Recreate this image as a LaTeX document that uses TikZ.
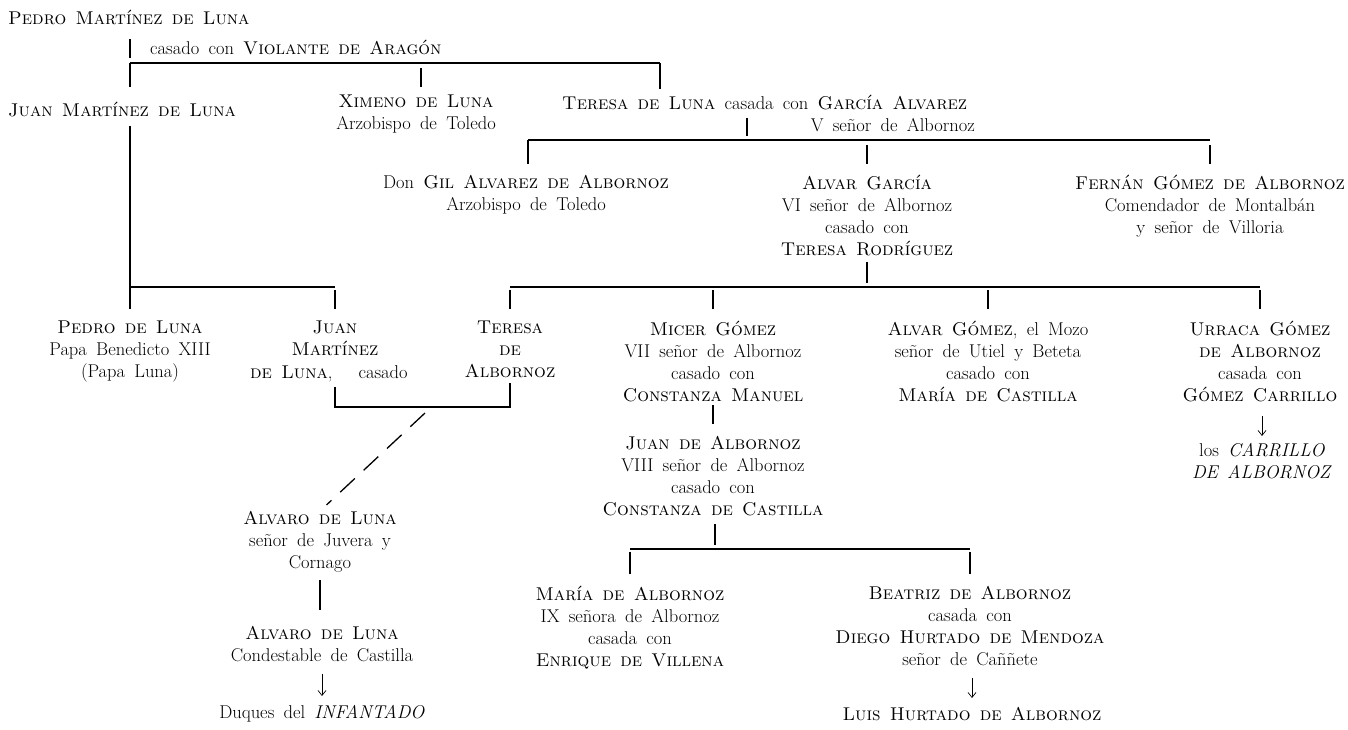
\documentclass[tikz,border=0pt]{standalone}
\usetikzlibrary{arrows.meta}
\newcommand\famfont{\fontsize{18.5}{22}\selectfont\spaceskip=0.5em plus 0.2em minus 0.1em\relax}
\begin{document}
\begin{tikzpicture}[x=1pt,y=-1pt,
  person/.style={align=center,inner sep=0pt,font=\famfont},
  link/.style={line width=1.3pt},
  desc/.style={line width=0.7pt,-{Straight Barb[length=5pt,width=8pt]}},
  dashlink/.style={line width=1.3pt,dash pattern=on 20pt off 12pt}]
\useasboundingbox (0,0) rectangle (1348,729);
% ---------- generation 1
\node[person,anchor=north west] (p1) at (8,10) {\textsc{Pedro Martínez de Luna}};
\node[person,anchor=north west] (cas1) at (150,40) {casado con \textsc{Violante de Aragón}};
\coordinate (b1L) at (130,63);
\coordinate (b1R) at (660,63);
% ---------- generation 2
\node[person,anchor=north west] (jm) at (8,102) {\textsc{Juan Martínez de Luna}};
\node[person,anchor=north] (xim) at (416,95) {\textsc{Ximeno de Luna}\\Arzobispo de Toledo};
\node[person,anchor=north west] (ter) at (562,95) {\textsc{Teresa de Luna} casada con \textsc{García Alvarez}};
\node[person,anchor=north east] (terv) at (975,118) {V señor de Albornoz};
\coordinate (b2L) at (528,140);
\coordinate (b2R) at (1210,140);
\coordinate (b2m) at (747,140);
% ---------- generation 3 (Albornoz)
\node[person,anchor=north] (gil) at (526,175) {Don \textsc{Gil Alvarez de Albornoz}\\Arzobispo de Toledo};
\node[person,anchor=north] (alvar) at (867,175) {\textsc{Alvar García}\\VI señor de Albornoz\\casado con\\\textsc{Teresa Rodríguez}};
\node[person,anchor=north] (fernan) at (1210,175) {\textsc{Fernán Gómez de Albornoz}\\Comendador de Montalbán\\y señor de Villoria};
\coordinate (b3L) at (130,287);
\coordinate (b3R) at (335,287);
\coordinate (b4L) at (510,287);
\coordinate (b4R) at (1260,287);
% ---------- generation 4
\node[person,anchor=north] (pl) at (130,321) {\textsc{Pedro de Luna}\\Papa Benedicto XIII\\(Papa Luna)};
\node[person,anchor=north] (juan2) at (335,321) {\textsc{Juan}\\\textsc{Martínez}};
\node[person,anchor=north west] (juan2b) at (250,365) {\textsc{de Luna},\hspace{26pt}casado};
\node[person,anchor=north] (teresa2) at (510,321) {\textsc{Teresa}\\\textsc{de}\\\textsc{Albornoz}};
\node[person,anchor=north] (micer) at (713,321) {\textsc{Micer Gómez}\\VII señor de Albornoz\\casado con\\\textsc{Constanza Manuel}};
\node[person,anchor=north] (alvarg) at (988,321) {\textsc{Alvar Gómez}, el Mozo\\señor de Utiel y Beteta\\casado con\\\textsc{María de Castilla}};
\node[person,anchor=north] (urraca) at (1260,321) {\textsc{Urraca Gómez}\\\textsc{de Albornoz}\\casada con\\\textsc{Gómez Carrillo}};
\node[person,anchor=north] (carr) at (1262,443) {los \textit{CARRILLO}\\\textit{DE ALBORNOZ}};
\coordinate (m1) at (335,407);
\coordinate (m2) at (510,407);
\coordinate (mm) at (425,413);
% ---------- Luna line
\node[person,anchor=north] (alv1) at (320,511) {\textsc{Alvaro de Luna}\\señor de Juvera y\\Cornago};
\node[person,anchor=north] (alv2) at (322,626) {\textsc{Alvaro de Luna}\\Condestable de Castilla};
\node[person,anchor=north] (duq) at (322,705) {Duques del \textit{INFANTADO}};
% ---------- Albornoz line
\node[person,anchor=north] (juanalb) at (713,436) {\textsc{Juan de Albornoz}\\VIII señor de Albornoz\\casado con\\\textsc{Constanza de Castilla}};
\coordinate (b5L) at (630,549);
\coordinate (b5R) at (970,549);
\node[person,anchor=north] (maria) at (630,586) {\textsc{María de Albornoz}\\IX señora de Albornoz\\casada con\\\textsc{Enrique de Villena}};
\node[person,anchor=north] (beatriz) at (970,586) {\textsc{Beatriz de Albornoz}\\casada con\\\textsc{Diego Hurtado de Mendoza}\\señor de Caññete};
\node[person,anchor=north] (luis) at (972,707) {\textsc{Luis Hurtado de Albornoz}};
% ================= connectors
\draw[link,shorten <=14pt,shorten >=5pt] (p1.south -| b1L) -- (b1L);
\draw[link] (b1L) -- (b1R);
\draw[link,shorten >=15pt] (b1L) -- (b1L |- jm.north);
\draw[link,shorten <=5pt,shorten >=8pt] (b1L -| 421,0) -- (xim.north -| 421,0);
\draw[link,shorten >=6pt] (b1R) -- (b1R |- ter.north);
\draw[link,shorten <=8pt,shorten >=4pt] (ter.south -| b2m) -- (b2m);
\draw[link] (b2L) -- (b2R);
\draw[link,shorten >=11pt] (b2L) -- (b2L |- gil.north);
\draw[link,shorten <=5pt,shorten >=11pt] (b2L -| alvar.north) -- (alvar.north);
\draw[link,shorten <=5pt,shorten >=11pt] (b2R) -- (b2R |- fernan.north);
% Juan Martinez de Luna
\draw[link,shorten <=9pt] (jm.south -| b3L) -- (b3L);
\draw[link] (b3L) -- (b3R);
\draw[link,shorten >=12pt] (b3L) -- (b3L |- pl.north);
\draw[link,shorten <=3pt,shorten >=12pt] (b3R) -- (b3R |- juan2.north);
% Alvar Garcia children
\draw[link,shorten <=6pt,shorten >=4pt] (alvar.south) -- (alvar.south |- b4L);
\draw[link] (b4L) -- (b4R);
\draw[link,shorten <=3pt,shorten >=12pt] (b4L) -- (b4L |- teresa2.north);
\draw[link,shorten <=3pt,shorten >=12pt] (b4L -| micer.north) -- (micer.north);
\draw[link,shorten <=3pt,shorten >=12pt] (b4L -| alvarg.north) -- (alvarg.north);
\draw[link,shorten <=3pt,shorten >=12pt] (b4R) -- (b4R |- urraca.north);
% marriage Juan / Teresa
\draw[link,shorten <=5pt,shorten >=5pt] (juan2b.south -| m1) -- (m1) -- (m2) -- (teresa2.south -| m2);
\draw[dashlink,shorten >=9pt] (mm) -- (alv1.north);
\draw[link,shorten <=8pt,shorten >=16pt] (alv1.south) -- (alv1.south |- alv2.north);
\draw[desc,shorten <=12pt,shorten >=9pt] (alv2.south) -- (duq.north);
% Micer / Juan de Albornoz
\draw[link,shorten <=3pt,shorten >=12pt] (micer.south) -- (juanalb.north);
\draw[link,shorten <=8pt,shorten >=4pt] (juanalb.south -| 715,0) -- (b5L -| 715,0);
\draw[link] (b5L) -- (b5R);
\draw[link,shorten <=3pt,shorten >=12pt] (b5L) -- (b5L |- maria.north);
\draw[link,shorten <=3pt,shorten >=12pt] (b5R) -- (b5R |- beatriz.north);
\draw[desc,shorten <=12pt,shorten >=9pt] (beatriz.south -| luis.north) -- (luis.north);
\draw[desc,shorten <=14pt,shorten >=7pt] (urraca.south -| carr.north) -- (carr.north);
\end{tikzpicture}
\end{document}
